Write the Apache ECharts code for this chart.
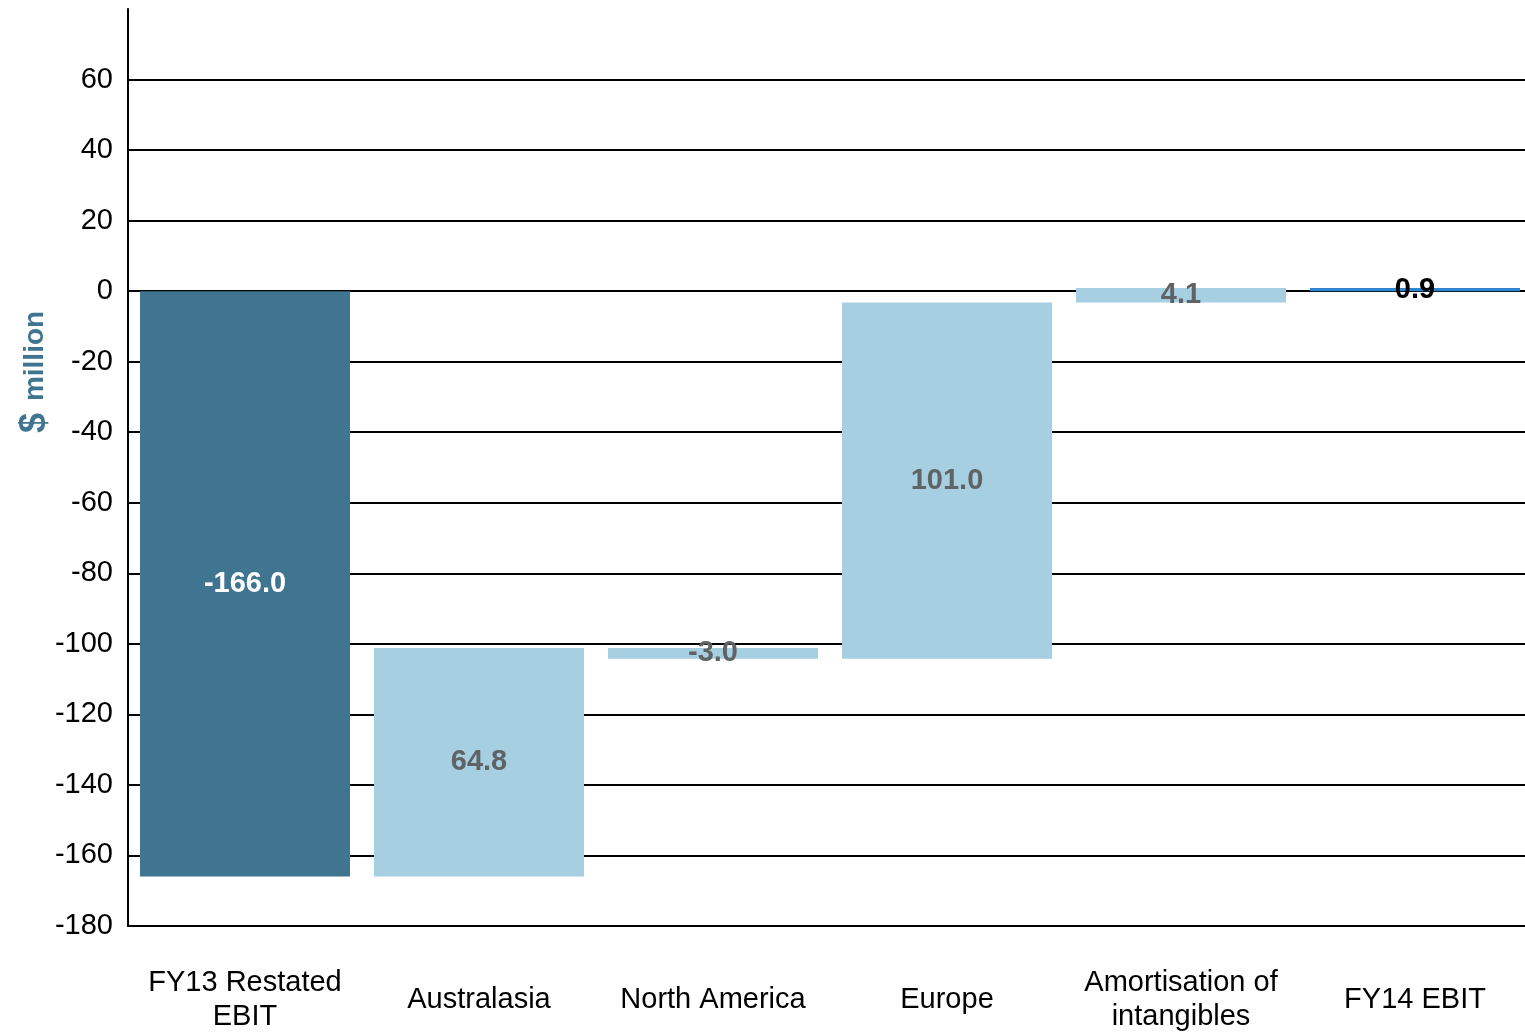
<!DOCTYPE html>
<html>
<head>
<meta charset="utf-8">
<script src="https://cdn.jsdelivr.net/npm/echarts@6/dist/echarts.min.js"></script>
<style>
  html, body { margin: 0; padding: 0; background: #fff; }
  #chart { width: 1525px; height: 1033px; }
</style>
</head>
<body>
<div id="chart"></div>
<script>
// EBIT bridge, FY13 restated to FY14 ($ million)
const categories = ['FY13 Restated\nEBIT', 'Australasia', 'North America', 'Europe', 'Amortisation of\nintangibles', 'FY14 EBIT'];
const openingEbit = -166.0;
const movements = [64.8, -3.0, 101.0, 4.1];
const closingEbit = 0.9;
const yTicks = { min: -180, max: 80, step: 20 };

const colors = {
  total: '#3f7590',
  step: '#a6cfe2',
  final: '#2e86d0',
  grid: '#000000'
};
const FONT = 'Arial, "Liberation Sans", sans-serif';

// Floating bars: an invisible base stacked under each visible bar
const barValues = [openingEbit].concat(movements, [closingEbit]);
const bases = [0];
let running = openingEbit;
movements.forEach(function (m) { bases.push(running); running += m; });
bases.push(0);

const labelFont = { fontFamily: FONT, fontSize: 29, fontWeight: 'bold' };

const visibleData = barValues.map(function (v, i) {
  let fill = colors.step, text = '#606366';
  if (i === 0) { fill = colors.total; text = '#ffffff'; }
  if (i === barValues.length - 1) { fill = colors.final; text = '#000000'; }
  return {
    value: v,
    itemStyle: { color: fill },
    label: Object.assign({ color: text }, labelFont)
  };
});

const chart = echarts.init(document.getElementById('chart'), null, { renderer: 'canvas' });
chart.setOption({
  animation: false,
  backgroundColor: '#ffffff',
  grid: {
    left: 128, width: 1404, top: 9, bottom: 107,
    containLabel: false,
    outerBoundsMode: 'none'
  },
  xAxis: {
    type: 'category',
    data: categories,
    axisLine: { onZero: false, lineStyle: { color: colors.grid, width: 2 } },
    axisTick: { show: false },
    axisLabel: {
      color: '#000',
      fontFamily: FONT,
      fontSize: 29,
      lineHeight: 34,
      verticalAlign: 'middle',
      margin: 74,
      interval: 0
    }
  },
  yAxis: {
    type: 'value',
    min: yTicks.min,
    max: yTicks.max,
    interval: yTicks.step,
    axisLine: { show: true, lineStyle: { color: colors.grid, width: 2 } },
    axisTick: { show: false },
    splitLine: { show: true, showMaxLine: false, lineStyle: { color: colors.grid, width: 2 } },
    axisLabel: {
      showMaxLabel: false,
      color: '#000',
      fontFamily: FONT,
      fontSize: 29,
      margin: 15
    }
  },
  graphic: [{
    type: 'text',
    x: 35,
    y: 372,
    rotation: Math.PI / 2,
    style: {
      text: '{d|$}{m|million}',
      align: 'center',
      verticalAlign: 'middle',
      fill: colors.total,
      rich: {
        d: { fontFamily: FONT, fontSize: 36, fontWeight: 'bold', fill: colors.total, padding: [0, 12, 0, 0] },
        m: { fontFamily: FONT, fontSize: 28, fontWeight: 'bold', fill: colors.total }
      }
    }
  }],
  series: [
    {
      type: 'bar',
      stack: 'bridge',
      stackStrategy: 'all',
      barWidth: 210,
      silent: true,
      itemStyle: { color: 'transparent' },
      data: bases
    },
    {
      type: 'bar',
      stack: 'bridge',
      stackStrategy: 'all',
      barWidth: 210,
      label: {
        show: true,
        position: 'inside',
        formatter: function (p) { return p.value.toFixed(1); }
      },
      data: visibleData
    }
  ]
});
</script>
</body>
</html>
